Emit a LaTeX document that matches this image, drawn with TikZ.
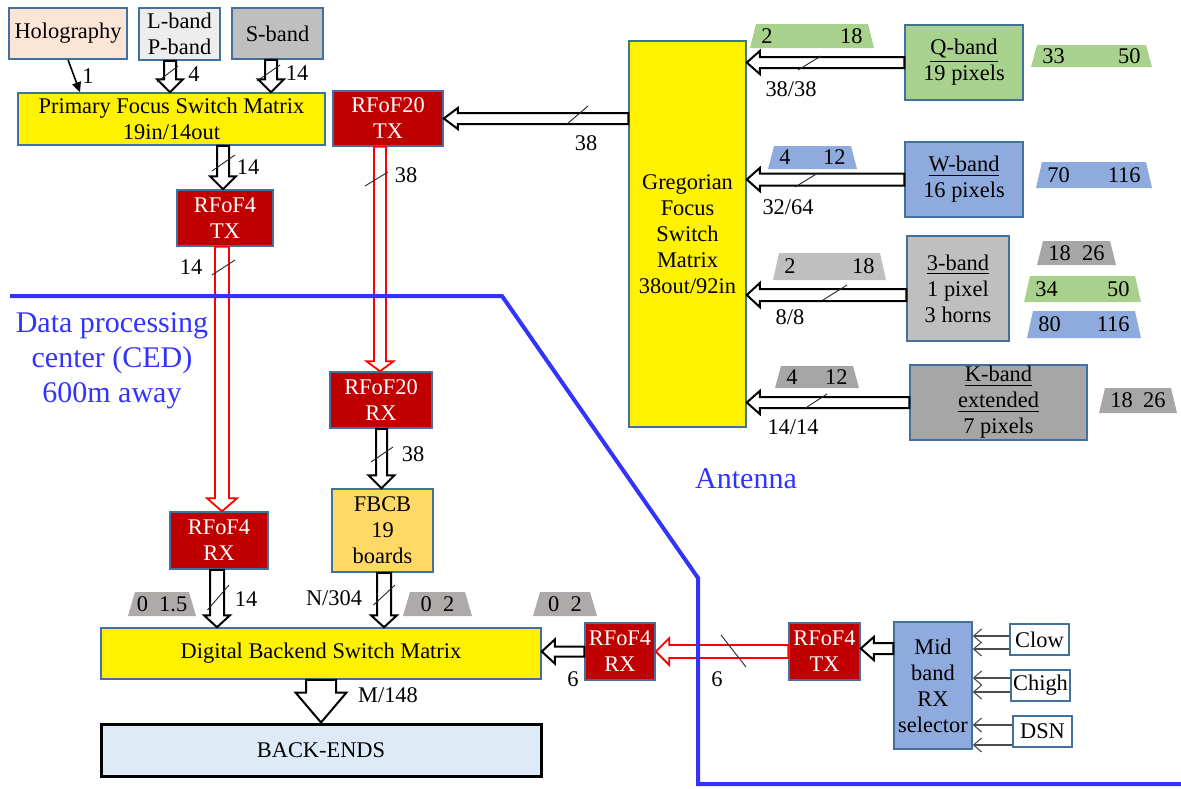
\documentclass[tikz,border=0pt]{standalone}
\usepackage{fontspec}
\setmainfont{Liberation Serif}
\usetikzlibrary{calc,arrows.meta}
\definecolor{bordc}{HTML}{41719C}
\definecolor{peach}{HTML}{FBE5D6}
\definecolor{lgray}{HTML}{EDEDED}
\definecolor{mgray}{HTML}{BFBFBF}
\definecolor{dgray}{HTML}{A6A6A6}
\definecolor{tgray}{HTML}{AEAAAA}
\definecolor{rfred}{HTML}{C00000}
\definecolor{qgreen}{HTML}{A9D18E}
\definecolor{wblue}{HTML}{8FAADC}
\definecolor{fbcbc}{HTML}{FFD966}
\definecolor{bec}{HTML}{DEEBF7}
\definecolor{lineblue}{HTML}{3333FF}
\newcommand{\boxnode}[7]{%
  \node[#1, minimum width={(#5-#3)*0.5pt}, minimum height={(#6-#4)*0.5pt}]
    (#2) at ({(#3+#5)/2},{(#4+#6)/2}) {#7};}
\newcommand{\fatdown}[6]{%
  \draw[#1] let \p1=(#2), \p2=(#3) in
   (\x1-#4,\y1) -- (\x1-#4,\y2+#6) -- (\x1-#5,\y2+#6) -- (\x1,\y2) --
   (\x1+#5,\y2+#6) -- (\x1+#4,\y2+#6) -- (\x1+#4,\y1) -- cycle;}
\newcommand{\fatleft}[6]{%
  \draw[#1] let \p1=(#2), \p2=(#3) in
   (\x1,\y1+#4) -- (\x2+#6,\y1+#4) -- (\x2+#6,\y1+#5) -- (\x2,\y1) --
   (\x2+#6,\y1-#5) -- (\x2+#6,\y1-#4) -- (\x1,\y1-#4) -- cycle;}
\newcommand{\btag}[8]{%
  \fill[#6] (#2,#5) -- (#2+6,#4) -- (#3-6,#4) -- (#3,#5) -- cycle;
  \node[anchor=west, inner sep=0pt] (#1l) at (#2+11,{(#4+#5)/2}) {#7};
  \node[anchor=east, inner sep=0pt] (#1r) at (#3-11,{(#4+#5)/2}) {#8};}
\newcommand{\ctag}[7]{%
  \fill[#6] (#2,#5) -- (#2+7,#4) -- (#3-7,#4) -- (#3,#5) -- cycle;
  \node[inner sep=0pt] (#1) at ({(#2+#3)/2},{(#4+#5)/2}) {#7};}
\begin{document}
\begin{tikzpicture}[x=0.5pt,y=-0.5pt,
  font=\fontsize{11.2pt}{13pt}\selectfont,
  box/.style={draw=bordc, line width=0.75pt, inner sep=0pt, align=center},
  rf/.style={box, fill=rfred, text=white},
  lbl/.style={inner sep=0pt},
  slash/.style={draw=black!85, line width=0.45pt},
  fatblk/.style={draw=black, fill=white, line width=1pt},
  fatred/.style={draw=red, fill=white, line width=0.9pt},
  gar/.style={draw=black!70, line width=0.55pt, -{Straight Barb[length=4pt,width=7pt]}}]
\useasboundingbox (0,0) rectangle (1181,788);

% ---------- boxes ----------
\boxnode{box, fill=peach}{holo}{9}{8}{127}{59}{Holography}
\boxnode{box, fill=lgray}{lband}{139}{8}{220}{60}{L-band\\P-band}
\boxnode{box, fill=mgray}{sband}{232}{8}{323}{59}{S-band}
\boxnode{box, fill=yellow}{pfsm}{18}{93}{325}{145}{Primary Focus Switch Matrix\\19in/14out}
\boxnode{rf}{rf20tx}{333}{91}{443}{146}{RFoF20\\TX}
\boxnode{rf}{rf4tx}{177}{190}{273}{246}{RFoF4\\TX}
\boxnode{box, fill=yellow}{greg}{629}{41}{746}{427}{Gregorian\\Focus\\Switch\\Matrix\\38out/92in}
\boxnode{box, fill=qgreen}{qband}{905}{25}{1023}{100}{\underline{Q-band}\\19 pixels}
\boxnode{box, fill=wblue}{wband}{905}{142}{1023}{217}{\underline{W-band}\\16 pixels}
\boxnode{box, fill=mgray}{band3}{907}{236}{1009}{341}{\underline{3-band}\\1 pixel\\3 horns}
\boxnode{box, fill=dgray}{kband}{910}{365}{1087}{440}{\underline{K-band}\\\underline{extended}\\7 pixels}
\boxnode{rf}{rf20rx}{330}{372}{432}{428}{RFoF20\\RX}
\boxnode{box, fill=fbcbc}{fbcb}{332}{489}{433}{572}{FBCB\\19\\boards}
\boxnode{rf}{rf4rx}{170}{512}{268}{569}{RFoF4\\RX}
\boxnode{box, fill=yellow}{dbsm}{101}{628}{541}{679}{Digital Backend Switch Matrix}
\boxnode{box, draw=black, line width=1.5pt, fill=bec}{be}{101}{724}{541}{776}{BACK-ENDS}
\boxnode{rf}{rf4rx2}{585}{623}{655}{680}{RFoF4\\RX}
\boxnode{rf}{rf4tx2}{789}{623}{860}{680}{RFoF4\\TX}
\boxnode{box, fill=wblue}{midsel}{894}{622}{972}{749}{Mid\\band\\RX\\selector}
\boxnode{box, fill=white}{clow}{1010}{624}{1069}{655}{Clow}
\boxnode{box, fill=white}{chigh}{1011}{670}{1070}{701}{Chigh}
\boxnode{box, fill=white}{dsn}{1013}{716}{1072}{747}{DSN}

% ---------- tags ----------
\btag{tq}{750}{874}{24}{48}{qgreen}{2}{18}
\btag{tq2}{1031}{1152}{45}{67}{qgreen}{33}{50}
\btag{tw}{768}{857}{146}{169}{wblue}{4}{12}
\btag{tw2}{1036}{1152}{162}{188}{wblue}{70}{116}
\btag{tt}{773}{886}{253}{280}{mgray}{2}{18}
\btag{tta}{1037}{1116}{241}{265}{dgray}{18}{26}
\btag{ttb}{1024}{1141}{276}{302}{qgreen}{34}{50}
\btag{ttc}{1027}{1141}{311}{338}{wblue}{80}{116}
\btag{tk}{775}{859}{366}{388}{dgray}{4}{12}
\btag{tk2}{1099}{1177}{388}{413}{dgray}{18}{26}
\ctag{tb1}{128}{196}{592}{616}{tgray}{0\ \ 1.5}
\ctag{tb2}{403}{472}{592}{616}{tgray}{0\ \ 2}
\ctag{tb3}{533}{597}{592}{616}{tgray}{0\ \ 2}

% ---------- connectors ----------
\draw[line width=0.8pt, -{Triangle[length=5pt,width=4.5pt]}] (holo.south) -- (80,0 |- pfsm.north);
\fatdown{fatblk}{170,0 |- lband.south}{pfsm.north}{3pt}{6.5pt}{6.5pt}
\fatdown{fatblk}{271,0 |- sband.south}{pfsm.north}{3pt}{6.5pt}{6.5pt}
\fatdown{fatblk}{223,0 |- pfsm.south}{rf4tx.north}{3pt}{6.5pt}{6.5pt}
\fatdown{fatred}{222,0 |- rf4tx.south}{rf4rx.north}{3.5pt}{7.5pt}{6.5pt}
\fatdown{fatred}{380,0 |- rf20tx.south}{rf20rx.north}{3pt}{6.75pt}{5pt}
\fatdown{fatblk}{381.5,0 |- rf20rx.south}{fbcb.north}{2.75pt}{6.5pt}{6.5pt}
\fatdown{fatblk}{217,0 |- rf4rx.south}{dbsm.north}{3.5pt}{6.5pt}{6pt}
\fatdown{fatblk}{384,0 |- fbcb.south}{dbsm.north}{3.5pt}{6.5pt}{6pt}
\fatdown{fatblk}{dbsm.south}{be.north}{7.5pt}{12.75pt}{15pt}
\fatleft{fatblk}{greg.west |- rf20tx.east}{rf20tx.east}{2.75pt}{5.25pt}{7pt}
\fatleft{fatblk}{qband.west}{greg.east}{2.75pt}{5.75pt}{6.5pt}
\fatleft{fatblk}{wband.west}{greg.east}{3pt}{5.75pt}{6.5pt}
\fatleft{fatblk}{band3.west |- 0,295}{greg.east}{3pt}{6pt}{6.5pt}
\fatleft{fatblk}{kband.west}{greg.east}{2.75pt}{5.75pt}{6.5pt}
\fatleft{fatred}{rf4tx2.west}{rf4rx2.east}{3.25pt}{6.75pt}{6.75pt}
\fatleft{fatblk}{rf4rx2.west}{dbsm.east}{2.5pt}{6pt}{6.5pt}
\fatleft{fatblk}{midsel.west |- 0,648.5}{rf4tx2.east}{2.75pt}{5.75pt}{6.5pt}
\foreach \src/\yy in {clow/636, clow/649, chigh/678, chigh/692, dsn/725, dsn/745}
  \draw[gar] (\src.west |- 0,\yy) -- (midsel.east |- 0,\yy);

% ---------- slashes ----------
\draw[slash] (157,82) -- (178,66);
\draw[slash] (257,81) -- (280,65);
\draw[slash] (212,171) -- (235,155);
\draw[slash] (212,275) -- (235,260);
\draw[slash] (365,186) -- (388,172);
\draw[slash] (567,124) -- (588,106);
\draw[slash] (798,70) -- (821,56);
\draw[slash] (795,187) -- (818,173);
\draw[slash] (823,300) -- (847,285);
\draw[slash] (804,409) -- (827,394);
\draw[slash] (371,462) -- (393,447);
\draw[slash] (207.5,610) -- (229,585);
\draw[slash] (373.5,605) -- (395,585);
\draw[slash] (721,635) -- (746,667);

% ---------- labels ----------
\node[lbl] (l1) at (88,76) {1};
\node[lbl] (l4) at (194,74) {4};
\node[lbl] (l14a) at (297,73) {14};
\node[lbl] (l14b) at (248,167) {14};
\node[lbl] (l14c) at (191,267) {14};
\node[lbl] (l38a) at (406,175) {38};
\node[lbl] (l38b) at (586,143) {38};
\node[lbl] (l3838) at (791,89) {38/38};
\node[lbl] (l3264) at (788,207) {32/64};
\node[lbl] (l88) at (790,317) {8/8};
\node[lbl] (l1414) at (793,427) {14/14};
\node[lbl] (l38c) at (413,454) {38};
\node[lbl] (l14d) at (246,599) {14};
\node[lbl] (lN) at (334,598) {N/304};
\node[lbl] (lM) at (388,695) {M/148};
\node[lbl] (l6a) at (573,679) {6};
\node[lbl] (l6b) at (717,679) {6};

% ---------- boundary ----------
\draw[lineblue, line width=2pt] (10,296) -- (502,296) -- (698,578) -- (698,784) -- (1181,784);
\node[lbl, text=lineblue, align=center, font=\fontsize{15pt}{17.5pt}\selectfont] (ced) at (112,361) {Data processing\\center (CED)\\600m away};
\node[lbl, text=lineblue, font=\fontsize{15pt}{17.5pt}\selectfont] (ant) at (746,479) {Antenna};
\end{tikzpicture}
\end{document}
